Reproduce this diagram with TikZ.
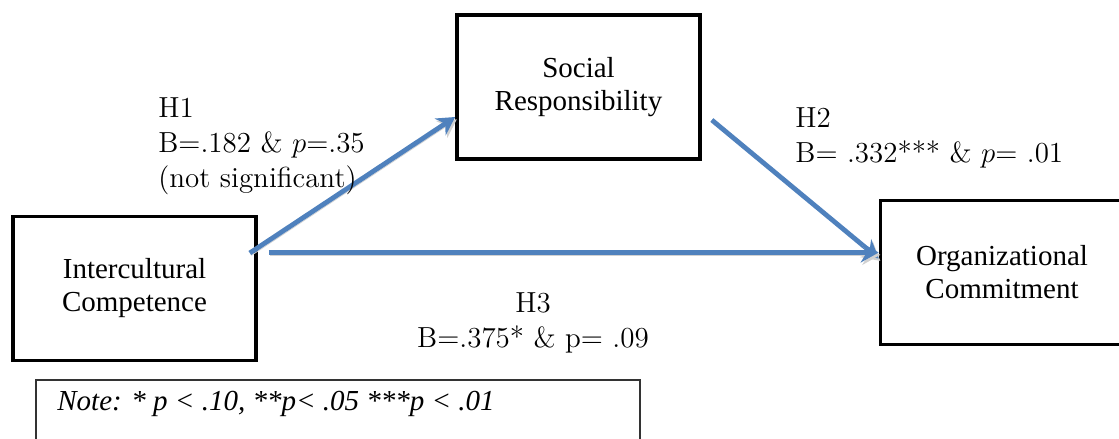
\documentclass[tikz,border=0pt]{standalone}
\usepackage{fontspec}
\newfontfamily\timesfont{Liberation Serif}
\usetikzlibrary{arrows.meta}
\definecolor{pathblue}{HTML}{4F81BD}

\begin{document}
\begin{tikzpicture}[x=0.5pt, y=-0.5pt,
    box/.style={draw, line width=1.8pt, minimum width=121.5pt, minimum height=72pt,
      inner sep=0pt, align=center, font=\timesfont\fontsize{14.5}{16.5}\selectfont},
    lbl/.style={inner sep=0pt, align=left, anchor=base west, font=\fontsize{14.5}{17.5}\selectfont},
    arrow/.style={draw=pathblue, line width=2.4pt,
      -{Stealth[length=9pt, width=10pt, inset=3pt]},
      preaction={draw=black!18, transform canvas={shift={(0.8pt,-1.2pt)}}}},
    noteframe/.style={draw=black!80, line width=0.6pt}]
  \useasboundingbox (0,0) rectangle (1119,439);

  \node[box] (0) at (134.5,288.5) {Intercultural\\Competence};
  \node[box] (1) at (578.5,87) {Social\\Responsibility};
  \node[box] (2) at (1002,272.5) {Organizational\\Commitment};

  \draw[arrow] ([shift={(-4pt,17.75pt)}]0.east) -- ([yshift=-15pt]1.west);
  \draw[arrow] ([shift={(5pt,-16.5pt)}]1.east) -- ([yshift=7pt]2.west);
  \draw[arrow] ([shift={(5.5pt,18pt)}]0.east) -- ([yshift=10pt]2.west);

  % base = last line
  \node[lbl] (3) at (158,187) {H1\\B=.182 \& $p$=.35\\(not significant)};
  \node[lbl] (4) at (795,162) {H2\\B= .332*** \& $p$= .01};
  \node[lbl, align=center, anchor=base] (5) at (533,347) {H3\\B=.375* \& p= .09};

  % note
  \draw[noteframe] (36,380) rectangle (640,470);
  \node[lbl, font=\timesfont\itshape\fontsize{14.5}{16.5}\selectfont] (6) at (57,410)
    {Note: * p < .10, **p< .05 ***p < .01};
\end{tikzpicture}
\end{document}
